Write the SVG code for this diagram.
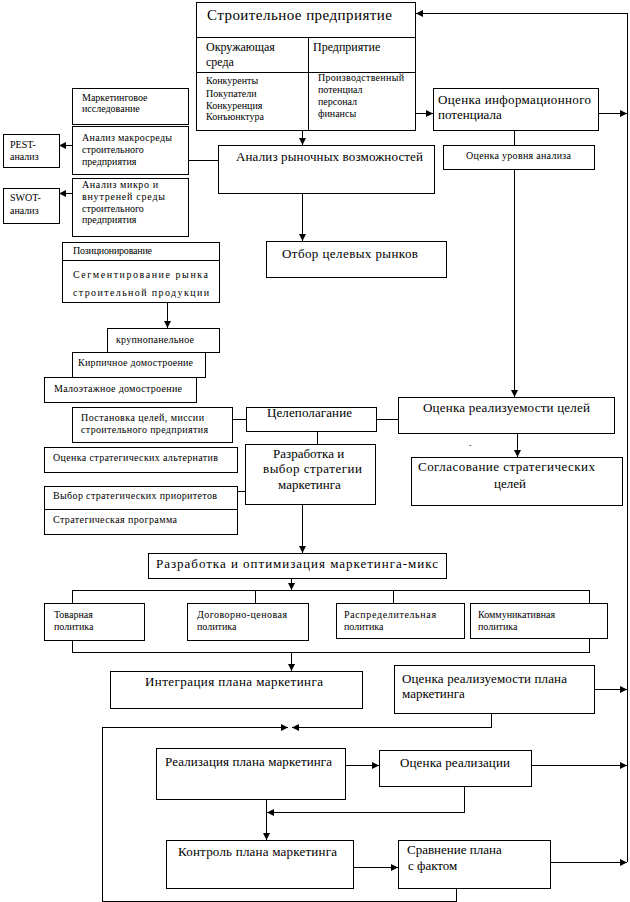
<svg xmlns="http://www.w3.org/2000/svg" width="630" height="902" viewBox="0 0 630 902" font-family="'Liberation Serif', 'DejaVu Serif', serif">
<defs>
<marker id="ah" markerWidth="7" markerHeight="7" refX="7" refY="3.5" orient="auto" markerUnits="userSpaceOnUse"><path d="M0,0 L7,3.5 L0,7 z" fill="#000"/></marker>
<style>
.b{fill:#fff;stroke:#000;stroke-width:1;shape-rendering:crispEdges}
.l{fill:none;stroke:#000;stroke-width:1;shape-rendering:crispEdges}
.a{fill:none;stroke:#000;stroke-width:1;shape-rendering:crispEdges;marker-end:url(#ah)}
.s10,.s12,.s13,.s15{font-family:"Liberation Serif","DejaVu Serif",serif;fill:#000}
.s10{font-size:10px}.s12{font-size:12px}.s13{font-size:13px}.s15{font-size:15px}
</style>
</defs>
<rect width="630" height="902" fill="#fff"/>
<g id="connectors">
<path class="a" d="M302.5,130 V145"/>
<path class="a" d="M415,113.5 H433"/>
<path class="a" d="M598,113.5 H627"/>
<path class="a" d="M627.5,862 V13.5 H416"/>
<path class="l" d="M514.5,130 V145"/>
<path class="a" d="M514.5,169 V397"/>
<path class="l" d="M188,160.5 H218"/>
<path class="a" d="M72,145.5 H59"/>
<path class="a" d="M72,193.5 H59"/>
<path class="a" d="M302.5,193 V241"/>
<path class="a" d="M167.5,302 V328"/>
<path class="l" d="M398,419.5 H376"/>
<path class="l" d="M246,419.5 H232"/>
<path class="l" d="M317.5,431 V444"/>
<path class="a" d="M517.5,433 V457"/>
<path class="l" d="M237,491.5 H245"/>
<path class="a" d="M302.5,504 V553"/>
<path class="a" d="M291.5,578 V590"/>
<path class="l" d="M72.5,603 V590.5 H589.5 V603 M255.5,590.5 V603 M393.5,590.5 V603"/>
<path class="l" d="M72.5,640 V652.5 H589.5 V638"/>
<path class="a" d="M291.5,652.5 V671"/>
<path class="a" d="M594,689.5 H627"/>
<path class="a" d="M491.5,713 V727.5 H292"/>
<path class="a" d="M456.5,888 V901.5 H102.5 V727.5 H288"/>
<path class="a" d="M345,765.5 H379"/>
<path class="a" d="M531,765.5 H627"/>
<path class="a" d="M464.5,786 V812.5 H267"/>
<path class="a" d="M266.5,799 V840"/>
<path class="a" d="M353,867.5 H398"/>
<path class="a" d="M550,862.5 H627"/>
</g>
<g id="n-enterprise">
<rect class="b" x="196.5" y="2.5" width="219" height="128"/>
<path class="l" d="M196,37.5 H415 M196,72.5 H415 M308.5,37 V130"/>
<text class="s15" x="207" y="20" textLength="185">Строительное предприятие</text>
<text class="s12" x="206" y="51">Окружающая</text>
<text class="s12" x="206" y="66">среда</text>
<text class="s12" x="313" y="51">Предприятие</text>
<text class="s10" x="206" y="84">Конкуренты</text>
<text class="s10" x="206" y="97">Покупатели</text>
<text class="s10" x="206" y="109">Конкуренция</text>
<text class="s10" x="206" y="120">Конъюнктура</text>
<text class="s10" x="318" y="81" textLength="86">Производственный</text>
<text class="s10" x="318" y="93">потенциал</text>
<text class="s10" x="318" y="105">персонал</text>
<text class="s10" x="318" y="117">финансы</text>
</g>
<g id="n-info">
<rect class="b" x="433.5" y="88.5" width="165" height="42"/>
<text class="s13" x="438" y="104" textLength="153">Оценка информационного</text>
<text class="s13" x="438" y="119">потенциала</text>
</g>
<g id="n-level">
<rect class="b" x="443.5" y="145.5" width="151" height="24"/>
<text class="s10" x="466" y="159" textLength="105">Оценка уровня анализа</text>
</g>
<g id="n-market-analysis">
<rect class="b" x="218.5" y="145.5" width="216" height="48"/>
<text class="s13" x="236" y="161" textLength="187">Анализ рыночных возможностей</text>
</g>
<g id="n-research">
<rect class="b" x="72.5" y="88.5" width="116" height="36"/>
<text class="s10" x="82" y="101">Маркетинговое</text>
<text class="s10" x="82" y="112">исследование</text>
</g>
<g id="n-macro">
<rect class="b" x="72.5" y="126.5" width="116" height="48"/>
<text class="s10" x="82" y="141" textLength="90">Анализ макросреды</text>
<text class="s10" x="82" y="153">строительного</text>
<text class="s10" x="82" y="165">предприятия</text>
</g>
<g id="n-pest">
<rect class="b" x="3.5" y="134.5" width="56" height="33"/>
<text class="s10" x="10" y="148">PEST-</text>
<text class="s10" x="10" y="160">анализ</text>
</g>
<g id="n-micro">
<rect class="b" x="72.5" y="178.5" width="116" height="58"/>
<text class="s10" x="82" y="188" textLength="76">Анализ микро и</text>
<text class="s10" x="82" y="200" textLength="83">внутреней среды</text>
<text class="s10" x="82" y="212">строительного</text>
<text class="s10" x="82" y="223">предприятия</text>
</g>
<g id="n-swot">
<rect class="b" x="3.5" y="188.5" width="56" height="35"/>
<text class="s10" x="10" y="201">SWOT-</text>
<text class="s10" x="10" y="214">анализ</text>
</g>
<g id="n-target">
<rect class="b" x="266.5" y="241.5" width="180" height="36"/>
<text class="s13" x="282" y="258" textLength="136">Отбор целевых рынков</text>
</g>
<g id="n-positioning">
<rect class="b" x="62.5" y="242.5" width="157" height="60"/>
<path class="l" d="M62,260.5 H219"/>
<text class="s10" x="73" y="254" textLength="79">Позиционирование</text>
<text class="s10" x="73" y="278" textLength="135">Сегментирование рынка</text>
<text class="s10" x="73" y="296" textLength="136">строительной продукции</text>
</g>
<g id="n-panel">
<rect class="b" x="107.5" y="328.5" width="112" height="24"/>
<text class="s10" x="116" y="343" textLength="78">крупнопанельное</text>
</g>
<g id="n-brick">
<rect class="b" x="72.5" y="352.5" width="133" height="25"/>
<text class="s10" x="78" y="366" textLength="115">Кирпичное домостроение</text>
</g>
<g id="n-lowrise">
<rect class="b" x="44.5" y="377.5" width="152" height="25"/>
<text class="s10" x="54" y="392" textLength="128">Малоэтажное домостроение</text>
</g>
<g id="n-mission">
<rect class="b" x="72.5" y="407.5" width="160" height="35"/>
<text class="s10" x="81" y="421" textLength="123">Постановка целей, миссии</text>
<text class="s10" x="81" y="433" textLength="127">строительного предприятия</text>
</g>
<g id="n-goal">
<rect class="b" x="246.5" y="407.5" width="130" height="24"/>
<text class="s13" x="267" y="417" textLength="85">Целеполагание</text>
</g>
<g id="n-goal-eval">
<rect class="b" x="398.5" y="397.5" width="216" height="36"/>
<text class="s13" x="423" y="412" textLength="167">Оценка реализуемости целей</text>
<text class="s10" x="469" y="446">.</text>
</g>
<g id="n-alt">
<rect class="b" x="44.5" y="447.5" width="193" height="25"/>
<text class="s10" x="53" y="461" textLength="165">Оценка стратегических альтернатив</text>
</g>
<g id="n-priorities">
<rect class="b" x="44.5" y="486.5" width="193" height="48"/>
<path class="l" d="M44,509.5 H237"/>
<text class="s10" x="53" y="499" textLength="164">Выбор стратегических приоритетов</text>
<text class="s10" x="53" y="523" textLength="124">Стратегическая программа</text>
</g>
<g id="n-strategy">
<rect class="b" x="245.5" y="444.5" width="130" height="60"/>
<text class="s13" x="273" y="458">Разработка и</text>
<text class="s13" x="263" y="473" textLength="99">выбор стратегии</text>
<text class="s13" x="278" y="489">маркетинга</text>
</g>
<g id="n-agree">
<rect class="b" x="411.5" y="457.5" width="211" height="48"/>
<text class="s13" x="418" y="471" textLength="177">Согласование стратегических</text>
<text class="s13" x="494" y="488">целей</text>
</g>
<g id="n-mix">
<rect class="b" x="148.5" y="553.5" width="298" height="25"/>
<text class="s13" x="156" y="568" textLength="282">Разработка и оптимизация маркетинга-микс</text>
</g>
<g id="n-product">
<rect class="b" x="44.5" y="603.5" width="100" height="37"/>
<text class="s10" x="54" y="618">Товарная</text>
<text class="s10" x="54" y="630">политика</text>
</g>
<g id="n-price">
<rect class="b" x="187.5" y="603.5" width="121" height="37"/>
<text class="s10" x="197" y="618" textLength="90">Договорно-ценовая</text>
<text class="s10" x="197" y="630">политика</text>
</g>
<g id="n-distribution">
<rect class="b" x="336.5" y="603.5" width="128" height="35"/>
<text class="s10" x="344" y="618" textLength="92">Распределительная</text>
<text class="s10" x="344" y="630">политика</text>
</g>
<g id="n-communication">
<rect class="b" x="470.5" y="603.5" width="137" height="35"/>
<text class="s10" x="478" y="618">Коммуникативная</text>
<text class="s10" x="478" y="630">политика</text>
</g>
<g id="n-integration">
<rect class="b" x="110.5" y="671.5" width="252" height="37"/>
<text class="s13" x="145" y="686" textLength="178">Интеграция плана маркетинга</text>
</g>
<g id="n-plan-eval">
<rect class="b" x="394.5" y="665.5" width="200" height="48"/>
<text class="s13" x="402" y="683" textLength="165">Оценка реализуемости плана</text>
<text class="s13" x="402" y="698">маркетинга</text>
</g>
<g id="n-implementation">
<rect class="b" x="156.5" y="748.5" width="189" height="51"/>
<text class="s13" x="165" y="766" textLength="167">Реализация плана маркетинга</text>
</g>
<g id="n-impl-eval">
<rect class="b" x="379.5" y="750.5" width="152" height="36"/>
<text class="s13" x="400" y="767" textLength="110">Оценка реализации</text>
</g>
<g id="n-control">
<rect class="b" x="166.5" y="840.5" width="187" height="48"/>
<text class="s13" x="178" y="856" textLength="159">Контроль плана маркетинга</text>
</g>
<g id="n-compare">
<rect class="b" x="398.5" y="840.5" width="152" height="48"/>
<text class="s13" x="407" y="854">Сравнение плана</text>
<text class="s13" x="408" y="870">с фактом</text>
</g>
</svg>
